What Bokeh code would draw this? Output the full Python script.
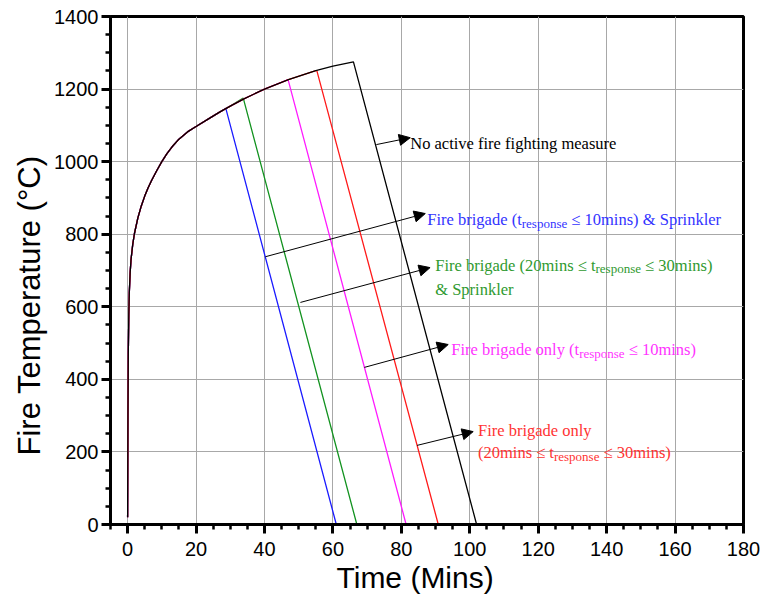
from bokeh.plotting import figure
from bokeh.models import SingleIntervalTicker, Arrow, NormalHead, ColumnDataSource, Range1d, Title
from bokeh.core.properties import value
from bokeh.embed import file_html
from bokeh.resources import INLINE

# ---- data ----
heat_t = [0, 0.1, 0.2, 0.35, 0.5, 0.75, 1, 1.5, 2, 3, 4, 5, 6, 7, 8.5, 10, 11.5, 13, 15, 17.5, 20, 24, 27, 30, 34, 40, 47, 55, 60, 66]
heat_T = [20, 300, 470, 580, 640, 695, 730, 772, 802, 845, 878, 905, 928, 948, 975, 1000, 1022, 1041, 1062, 1082, 1097, 1120, 1137, 1153, 1173, 1200, 1226, 1251, 1263, 1275]

scenario_names = ["No active fire fighting measure",
                  "Fire brigade (t_response <= 10mins) & Sprinkler",
                  "Fire brigade (20mins <= t_response <= 30mins) & Sprinkler",
                  "Fire brigade only (t_response <= 10mins)",
                  "Fire brigade only (20mins <= t_response <= 30mins)"]
decay_start_t = [66, 28.7, 33.8, 46.9, 55.3]
decay_start_T = [1275, 1147, 1175, 1226, 1251]
decay_end_t = [102, 61, 67, 81.4, 90.8]
zero_until_t = 102

line_colors = ["#000000", "#1a1aff", "#12921f", "#ff1aff", "#ff1a1a"]
text_colors = ["#000000", "#3333ff", "#2f9a2f", "#ff33ff", "#ff3333"]

x_title = "Time (Mins)"
y_title = "Fire Temperature (\u00b0C)"

# ---- figure ----
p = figure(width=761, height=603, x_range=Range1d(-5, 180), y_range=Range1d(0, 1400),
           output_backend="svg", toolbar_location=None,
           min_border_left=110, min_border_right=18, min_border_top=16, min_border_bottom=79)
p.background_fill_color = "white"
p.border_fill_color = "white"
p.outline_line_color = "black"
p.outline_line_width = 3
p.outline_line_alpha = 1

p.xaxis.ticker = SingleIntervalTicker(interval=20, num_minor_ticks=4)
p.yaxis.ticker = SingleIntervalTicker(interval=200, num_minor_ticks=4)
for ax in (p.xaxis, p.yaxis):
    ax.axis_line_width = 3
    ax.axis_line_color = "black"
    ax.major_tick_line_width = 3
    ax.minor_tick_line_width = 2.5
    ax.major_tick_out = 9
    ax.major_tick_in = 0
    ax.minor_tick_out = 5
    ax.minor_tick_in = 0
    ax.major_label_text_font = "Liberation Sans"
    ax.major_label_text_font_size = "20px"
    ax.major_label_text_color = "black"
p.xaxis.major_label_standoff = 8
p.yaxis.major_label_standoff = 3

p.xgrid.grid_line_color = "#a8a8a8"
p.ygrid.grid_line_color = "#a8a8a8"
p.xgrid.grid_line_width = 1
p.ygrid.grid_line_width = 1

# axis titles as side titles so they can be shifted along the axis like the reference
p.add_layout(Title(text=x_title, align="left", offset=226, standoff=0,
                   text_font="Liberation Sans", text_font_size="30px", text_font_style="normal",
                   text_color="black"), "below")
p.add_layout(Title(text=y_title, align="left", offset=69, standoff=10,
                   text_font="Liberation Sans", text_font_size="31px", text_font_style="normal",
                   text_color="black"), "left")

# ---- curves ----
order = [1, 2, 3, 4, 0]
for i in order:
    s = decay_start_t[i]
    ts = [t for t in heat_t if t < s] + [s, decay_end_t[i], zero_until_t]
    Ts = [T for t, T in zip(heat_t, heat_T) if t < s] + [decay_start_T[i], 0, 0]
    p.line(ts, Ts, line_color=line_colors[i], line_width=1.3)

# ---- annotations ----
W = {' ': 250, '(': 333, ')': 333, '&': 778, '\u2264': 549, 'F': 556, 'N': 722, 'S': 556,
     'a': 444, 'b': 500, 'c': 444, 'd': 500, 'e': 444, 'f': 333, 'g': 500, 'h': 500, 'i': 278,
     'k': 500, 'l': 278, 'm': 778, 'n': 500, 'o': 500, 'p': 500, 'r': 333, 's': 389, 't': 278,
     'u': 500, 'v': 500, 'y': 500}
for d in "0123456789":
    W[d] = 500

MAIN = 16.5
SUB = 13.0

def width(txt, size):
    return sum(W.get(c, 500) for c in txt) / 1000.0 * size

LE = "\u2264"
labels = [
    (0, 82.6, 1050, [("No active fire fighting measure", False)]),
    (1, 87.6, 840, [("Fire brigade (t", False), ("response", True), (" " + LE + " 10mins) & Sprinkler", False)]),
    (2, 89.9, 714, [("Fire brigade (20mins " + LE + " t", False), ("response", True), (" " + LE + " 30mins)", False)]),
    (2, 89.9, 648, [("& Sprinkler", False)]),
    (3, 94.6, 482, [("Fire brigade only (t", False), ("response", True), (" " + LE + " 10mins)", False)]),
    (4, 102.4, 259, [("Fire brigade only", False)]),
    (4, 102.4, 198, [("(20mins " + LE + " t", False), ("response", True), (" " + LE + " 30mins)", False)]),
]

for ci, x0, y0, pieces in labels:
    xo = 0.0
    data = dict(x=[], y=[], text=[], xo=[], yo=[], fs=[])
    for txt, sub in pieces:
        size = SUB if sub else MAIN
        lead = len(txt) - len(txt.lstrip(" "))
        xo += width(" " * lead, size)
        txt = txt.lstrip(" ")
        data["x"].append(x0)
        data["y"].append(y0)
        data["text"].append(txt)
        data["xo"].append(xo)
        data["yo"].append(3.5 if sub else 0.0)
        data["fs"].append(f"{size}px")
        xo += width(txt, size)
    p.text(x="x", y="y", text="text", x_offset="xo", y_offset="yo", text_font_size="fs",
           source=ColumnDataSource(data), text_font=value("Liberation Serif"),
           text_color=text_colors[ci], text_baseline="alphabetic", text_align="left")

arrows = [(72.7, 1047, 82.6, 1066), (40.3, 738, 87.0, 857), (50.5, 612, 88.4, 708),
          (69.2, 433, 93.7, 496), (84.6, 218, 101.0, 256)]
for xs, ys, xe, ye in arrows:
    p.add_layout(Arrow(end=NormalHead(size=11, fill_color="black", line_color="black", line_width=1),
                       x_start=xs, y_start=ys, x_end=xe, y_end=ye,
                       line_color="black", line_width=1))

open("out.html", "w").write(file_html(p, INLINE))
